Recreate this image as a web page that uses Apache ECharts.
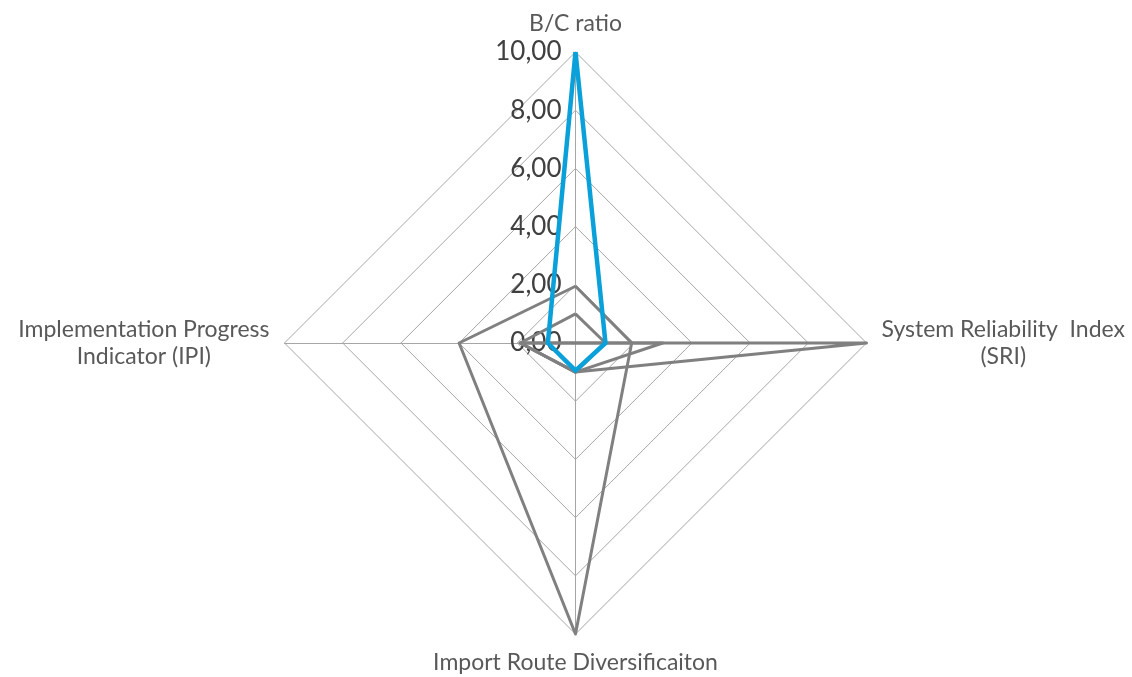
<!DOCTYPE html>
<html>
<head>
<meta charset="utf-8">
<script src="https://cdn.jsdelivr.net/npm/echarts@6/dist/echarts.min.js"></script>
<style>
html,body{margin:0;padding:0;background:#fff;}
#chart{width:1132px;height:677px;}
</style>
</head>
<body>
<div id="chart"></div>
<script>
// Indicators in clockwise order starting at the top
var categories = ['B/C ratio', 'System Reliability  Index\n(SRI)', 'Import Route Diversificaiton', 'Implementation Progress\nIndicator (IPI)'];
var axisMax = 10;
var tickStep = 2;

// Series values (same order as categories)
var blueSeries = [10, 1.03, 0.95, 0.95];
var graySeriesA = [1.95, 1.93, 10, 4.0];
var graySeriesB = [0, 10, 1.0, 1.9];
var graySeriesC = [0, 3.0, 1.0, 1.9];
var graySeriesD = [1.0, 1.03, 1.0, 1.9];

// ECharts radar runs counter-clockwise: reorder top, left, bottom, right
var order = [0, 3, 2, 1];
function reorder(arr) { return order.map(function (i) { return arr[i]; }); }

var FONT = 'Lato, "Open Sans", sans-serif';

var indicators = reorder(categories).map(function (name, idx) {
  var ind = { name: name, min: 0, max: axisMax };
  if (idx === 0) {
    ind.axisLabel = {
      show: true,
      color: '#404040',
      fontSize: 26,
      fontFamily: FONT,
      margin: 14,
      formatter: function (v) { return v.toFixed(2).replace('.', ','); }
    };
  }
  return ind;
});

var chart = echarts.init(document.getElementById('chart'), null, { renderer: 'canvas' });

function grayLine(name, data) {
  return {
    type: 'radar',
    name: name,
    symbol: 'none',
    z: 2,
    lineStyle: { color: '#808080', width: 3 },
    data: [{ value: reorder(data), name: name }]
  };
}

chart.setOption({
  animation: false,
  backgroundColor: '#ffffff',
  radar: {
    center: [575.5, 343],
    radius: 291,
    startAngle: 90,
    splitNumber: axisMax / tickStep,
    shape: 'polygon',
    indicator: indicators,
    nameGap: 15,
    axisName: {
      color: '#595959',
      fontSize: 23,
      fontFamily: FONT,
      formatter: function (name) {
        return name.split('\n').map(function (l) { return '{c|' + l + '}'; }).join('\n');
      },
      rich: {
        c: { align: 'center', color: '#595959', fontSize: 23, fontFamily: FONT, lineHeight: 27 }
      }
    },
    splitLine: { lineStyle: { color: '#A6A6A6', width: 1 } },
    splitArea: { show: false },
    axisLine: { lineStyle: { color: '#A6A6A6', width: 1 } },
    axisTick: { show: false },
    axisLabel: { show: false }
  },
  series: [
    grayLine('A', graySeriesA),
    grayLine('B', graySeriesB),
    grayLine('C', graySeriesC),
    grayLine('D', graySeriesD),
    {
      type: 'radar',
      name: 'Blue',
      symbol: 'none',
      z: 3,
      lineStyle: { color: '#0AA0DA', width: 4.5 },
      data: [{ value: reorder(blueSeries), name: 'Blue' }]
    }
  ]
});
</script>
</body>
</html>
